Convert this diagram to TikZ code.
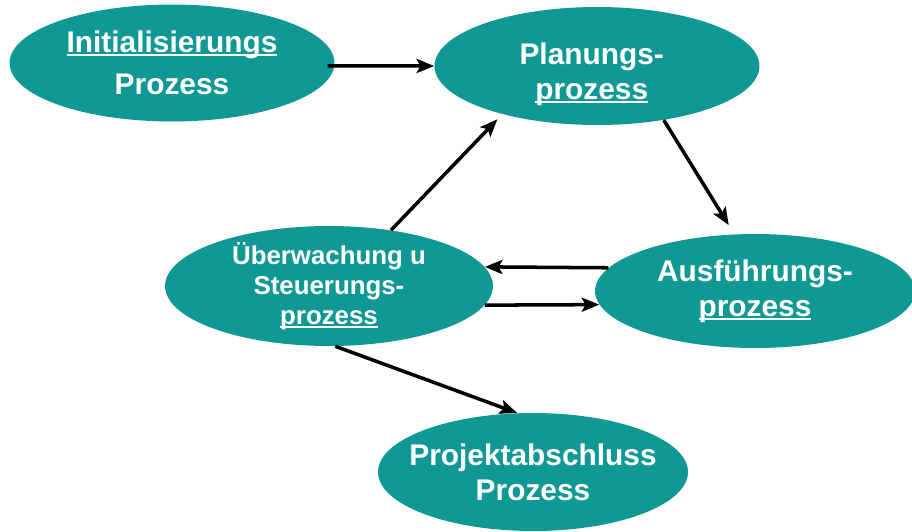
\documentclass[tikz,border=0pt]{standalone}
\usepackage{fontspec}
\setmainfont{Liberation Sans}
\usetikzlibrary{shapes.geometric,arrows.meta}
\definecolor{procteal}{RGB}{16,152,148}
\newcommand{\ulword}[1]{\setbox0\hbox{#1}\rlap{\rule[-2pt]{\wd0}{1.1pt}}\box0}
\tikzset{
  proc/.style={ellipse,fill=procteal,inner sep=0pt,minimum width=6.5cm,minimum height=2.34cm},
  proctext/.style={text=white,align=center,font=\bfseries\fontsize{17}{20}\selectfont},
  arr/.style={line width=2pt,-{Stealth[length=10pt,width=8pt,inset=2.2pt]}}
}

\begin{document}
\begin{tikzpicture}[x=0.02cm,y=-0.02cm]
\useasboundingbox (0,0) rectangle (912,531);
\node[proc,label={[proctext,font=\bfseries\fontsize{17}{24}\selectfont]center:\ulword{Initialisierungs}\\Prozess}] (N0) at (172,63) {};
\node[proc,minimum height=2.36cm,label={[proctext,xshift=-3pt,yshift=-4.5pt]center:Planungs-\\\ulword{prozess}}] (N1) at (597,66) {};
\node[proc,minimum width=6.56cm,minimum height=2.4cm,label={[proctext,font=\bfseries\fontsize{14.7}{17}\selectfont]center:Überwachung u\\Steuerungs-\\\ulword{prozess}}] (N2) at (329,286) {};
\node[proc,minimum width=6.4cm,minimum height=2.28cm,label={[proctext]center:Ausführungs-\\\ulword{prozess}}] (N3) at (755,291) {};
\node[proc,minimum width=6.2cm,minimum height=2.36cm,label={[proctext]center:Projektabschluss\\Prozess}] (N4) at (533,472) {};
\draw[arr,shorten <=-4pt] (N0.-1) -- (N1.180);
\draw[arr,shorten >=6pt] (N1.-39) -- (N3.110);
\draw[arr,shorten >=4pt] (N2.42) -- (N1.207);
\draw[arr] (N3.171) -- (N2.7);
\draw[arr] (N2.-7) -- (N3.185);
\draw[arr] (N2.-84) -- (N4.105);
\end{tikzpicture}
\end{document}
